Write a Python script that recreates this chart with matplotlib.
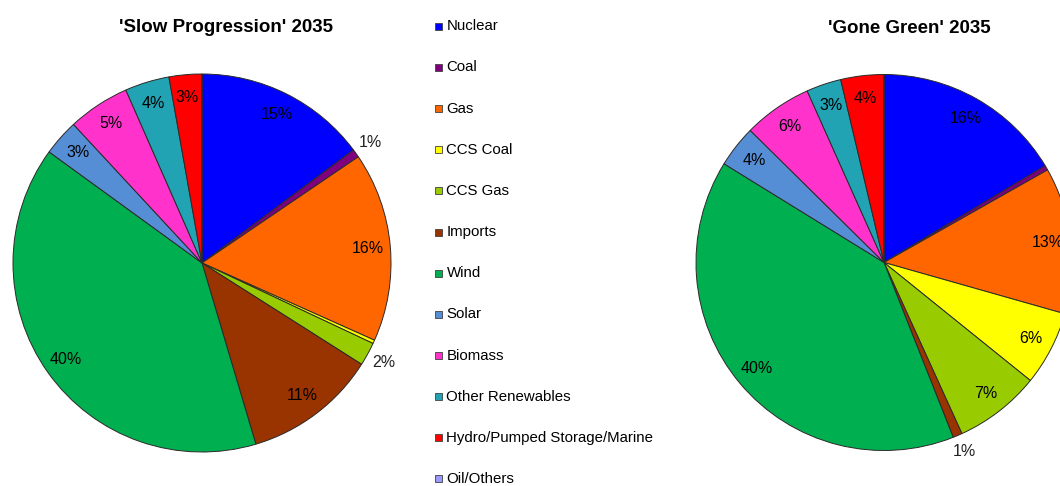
import matplotlib
matplotlib.use("Agg")
import matplotlib.pyplot as plt
from matplotlib.patches import Rectangle
import numpy as np

plt.rcParams['font.family'] = ['Liberation Sans', 'DejaVu Sans']

# Generation mix categories and colours
categories = ["Nuclear", "Coal", "Gas", "CCS Coal", "CCS Gas", "Imports", "Wind",
              "Solar", "Biomass", "Other Renewables", "Hydro/Pumped Storage/Marine",
              "Oil/Others"]
colors = ["#0000FF", "#800080", "#FF6600", "#FFFF00", "#99CC00", "#993300", "#00B050",
          "#558ED5", "#FF33CC", "#21A3B3", "#FF0000", "#9999FF"]

# Share of generation (%) per scenario
slow_progression = [14.8, 0.7, 16.2, 0.3, 2.0, 11.4, 39.6, 3.1, 5.3, 3.8, 2.8, 0.0]
gone_green = [16.4, 0.4, 12.6, 6.4, 7.4, 0.8, 39.8, 3.6, 5.9, 3.0, 3.7, 0.0]

titles = ["'Slow Progression' 2035", "'Gone Green' 2035"]

W, H = 1060, 486
fig = plt.figure(figsize=(W / 100, H / 100), dpi=100)
fig.patch.set_facecolor("white")


def pie_axes(cx, cy, r):
    return fig.add_axes([(cx - r) / W, (H - cy - r) / H, 2 * r / W, 2 * r / H])


def draw_pie(ax, values):
    wedges, _ = ax.pie(values, colors=colors, startangle=90, counterclock=False,
                       radius=1, wedgeprops=dict(edgecolor="#2a2a2a", linewidth=0.7))
    for w in wedges:
        w.set_clip_on(False)
    ax.set_xlim(-1, 1)
    ax.set_ylim(-1, 1)
    ax.set_aspect("equal")
    ax.axis("off")
    total = sum(values)
    for w, v in zip(wedges, values):
        pct = 100.0 * v / total
        if round(pct) < 1:
            continue
        ang = np.deg2rad((w.theta1 + w.theta2) / 2.0)
        d = 0.88 if pct >= 2.5 else 1.095
        ax.text(d * np.cos(ang), d * np.sin(ang), f"{round(pct)}%",
                ha="center", va="center", fontsize=11.5,
                color="black" if d < 1 else "#222222", clip_on=False)


ax1 = pie_axes(202, 263, 189)
draw_pie(ax1, slow_progression)
ax2 = pie_axes(884, 262.5, 188)
draw_pie(ax2, gone_green)

fig.text(226 / W, 1 - 27 / H, titles[0], ha="center", va="center",
         fontsize=13.5, fontweight="bold")
fig.text(909 / W, 1 - 28.5 / H, titles[1], ha="center", va="center",
         fontsize=13.5, fontweight="bold")

# Legend column between the two pies
for i, (name, col) in enumerate(zip(categories, colors)):
    y = 26.3 + i * 41.15
    fig.patches.append(Rectangle((435 / W, (H - y - 3.5) / H), 7 / W, 7 / H,
                                 transform=fig.transFigure, facecolor=col,
                                 edgecolor="#404040", linewidth=0.6))
    fig.text(446.5 / W, 1 - y / H, name, ha="left", va="center", fontsize=10.8)

fig.savefig("out.png", dpi=100)
